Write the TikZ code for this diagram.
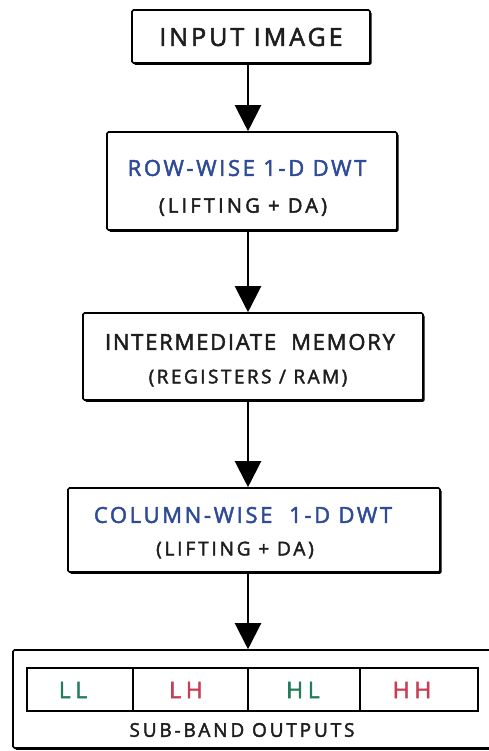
\documentclass[tikz,border=0pt]{standalone}
\usepackage{fontspec}
\setmainfont{Open Sans}[FakeBold=2.2]
\usetikzlibrary{arrows.meta,shadows}
\definecolor{ink}{RGB}{30,30,30}
\definecolor{bluet}{RGB}{45,75,150}
\definecolor{greent}{RGB}{35,125,90}
\definecolor{redt}{RGB}{200,60,85}
\newcommand{\fs}[2]{\fontsize{#1}{#1}\selectfont\addfontfeature{LetterSpace=#2}}
\begin{document}
\begin{tikzpicture}[x=1pt,y=-1pt,
  box/.style={draw=black, line width=1.6pt, fill=white, rounded corners=1.5pt, inner sep=0pt,
    drop shadow={shadow xshift=1.6pt, shadow yshift=-1.8pt, fill=black, opacity=1}},
  txt/.style={inner sep=0pt, text=ink, anchor=center},
  arr/.style={line width=2.2pt, draw=black, -{Triangle[length=26pt,width=26pt]}},
  cell/.style={draw=black, line width=1.3pt, inner sep=0pt}
]
\useasboundingbox (0,0) rectangle (488,751);

\node[box, minimum width=238pt, minimum height=53pt] (b1) at (251,36.5) {};
\node[box, minimum width=290pt, minimum height=98pt] (b2) at (252,181) {};
\node[box, minimum width=340pt, minimum height=87pt] (b3) at (253,356.5) {};
\node[box, minimum width=372pt, minimum height=84pt] (b4) at (254,530) {};
\node[box, minimum width=485pt, minimum height=98pt] (b5) at (255.5,699) {};

\node[txt, font=\fs{25}{12}] (t1) at (251,37) {INPUT IMAGE};
\node[txt, text=bluet, font=\fs{22}{12}] (t2a) at (247,168) {ROW-WISE 1-D DWT};
\node[txt, font=\fs{20}{16}] (t2b) at (243,207) {(LIFTING + DA)};
\node[txt, font=\fs{22}{8}] (t3a) at (250,342) {INTERMEDIATE\ \ MEMORY};
\node[txt, font=\fs{19}{13}] (t3b) at (248,378) {(REGISTERS / RAM)};
\node[txt, text=bluet, font=\fs{22}{12}] (t4a) at (243,515) {COLUMN-WISE\ \ 1-D DWT};
\node[txt, font=\fs{19}{15}] (t4b) at (235,550) {(LIFTING + DA)};

\node[cell, minimum width=106pt, minimum height=43pt] (c1) at (80,689.5) {};
\node[cell, minimum width=115pt, minimum height=43pt] (c2) at (190.5,689.5) {};
\node[cell, minimum width=112pt, minimum height=43pt] (c3) at (304,689.5) {};
\node[cell, minimum width=118pt, minimum height=43pt] (c4) at (419,689.5) {};
\node[txt, text=greent, font=\fs{23}{20}] (ll) at (73,690) {LL};
\node[txt, text=redt, font=\fs{23}{20}] (lh) at (186,690) {LH};
\node[txt, text=greent, font=\fs{23}{20}] (hl) at (303,690) {HL};
\node[txt, text=redt, font=\fs{23}{20}] (hh) at (412,690) {HH};
\node[txt, font=\fs{19}{15}] (t5) at (242,730) {SUB-BAND OUTPUTS};

\draw[arr] ([xshift=-3pt]b1.south) -- ([xshift=-4pt]b2.north);
\draw[arr] ([xshift=-4pt]b2.south) -- ([xshift=-5pt]b3.north);
\draw[arr] ([xshift=-5pt]b3.south) -- ([xshift=-6pt]b4.north);
\draw[arr] ([xshift=-6pt]b4.south) -- ([xshift=-7.5pt]b5.north);
\end{tikzpicture}
\end{document}
